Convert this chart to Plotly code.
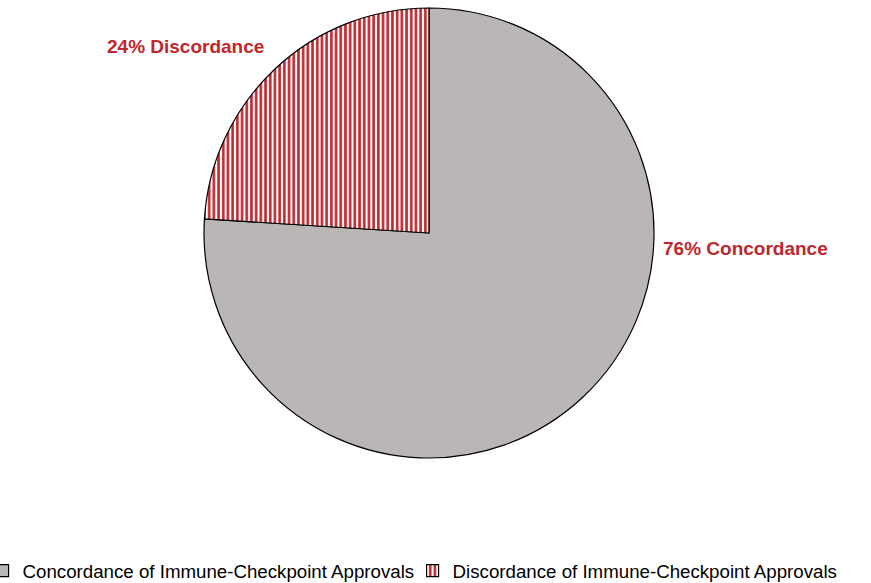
import plotly.graph_objects as go

labels = ["Concordance of Immune-Checkpoint Approvals", "Discordance of Immune-Checkpoint Approvals"]
short_labels = ["Concordance", "Discordance"]
values = [76, 24]

RED = "#C0272D"
GRAY = "#BAB6B5"

W, H = 871, 583
cx, cy, r = 429, 233, 225

fig = go.Figure(go.Pie(
    labels=labels,
    values=values,
    sort=False,
    direction="clockwise",
    rotation=0,
    textinfo="none",
    hoverinfo="label+percent",
    marker=dict(
        colors=[GRAY, "white"],
        line=dict(color="black", width=1.2),
        pattern=dict(shape=["", "|"], fgcolor=RED, bgcolor="white", size=4.7, solidity=0.55),
    ),
    domain=dict(x=[(cx - r) / W, (cx + r) / W], y=[1 - (cy + r) / H, 1 - (cy - r) / H]),
))

label_pos = [(745, 248), (185, 47)]
for (px, py), v, s in zip(label_pos, values, short_labels):
    fig.add_annotation(
        x=px / W, y=1 - py / H, xref="paper", yref="paper",
        xanchor="center", yanchor="middle",
        text=f"<b>{v}% {s}</b>", showarrow=False,
        font=dict(family="Liberation Sans, Arial", size=19, color=RED),
    )

fig.update_layout(
    width=W, height=H,
    margin=dict(l=0, r=0, t=0, b=0, autoexpand=False),
    paper_bgcolor="white",
    plot_bgcolor="white",
    showlegend=True,
    legend=dict(
        orientation="h", x=-0.02, xanchor="left", y=-0.012, yanchor="bottom",
        font=dict(family="Liberation Sans, Arial", size=18.7, color="black"),
        entrywidth=385, entrywidthmode="pixels",
        itemwidth=30,
        tracegroupgap=0,
    ),
)

fig.write_html("out.html", config={"displayModeBar": False},
               post_script="document.body.style.margin='0';document.body.style.overflow='hidden';")
